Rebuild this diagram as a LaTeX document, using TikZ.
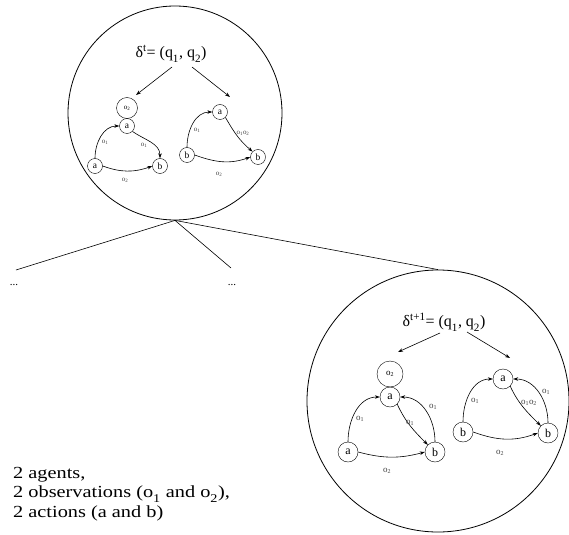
\documentclass[tikz,border=0pt]{standalone}
\usepackage{fontspec}
\setmainfont{Liberation Serif}
\newfontfamily\legfont[FakeStretch=1.2]{Liberation Serif}
\usetikzlibrary{arrows.meta}
\newcommand\lsb[1]{\raisebox{-0.3ex}{\textsubscript{#1}}}
\begin{document}
\begin{tikzpicture}[x=1bp,y=-1bp,
  big/.style={draw,circle,line width=0.8bp},
  st/.style={draw,circle,inner sep=0pt,minimum size=15bp,font=\fontsize{9.5}{9.5}\selectfont},
  stb/.style={draw,circle,inner sep=0pt,minimum size=20bp,font=\fontsize{12}{12}\selectfont},
  lp/.style={draw,circle,inner sep=0pt,minimum size=21bp,font=\fontsize{7}{7}\selectfont},
  lpb/.style={draw,circle,inner sep=0pt,minimum size=26bp,font=\fontsize{9}{9}\selectfont},
  ed/.style={-{Stealth[length=5bp,width=3.5bp]},line width=0.6bp},
  lab/.style={font=\fontsize{7}{7}\selectfont,text=black!75,inner sep=0pt},
  labb/.style={font=\fontsize{9}{9}\selectfont,text=black!75,inner sep=0pt},
  ttl/.style={font=\fontsize{16}{16}\selectfont,inner sep=0pt},
  leg/.style={anchor=base west,inner sep=0pt,font=\legfont\fontsize{17}{17}\selectfont},
  br/.style={line width=0.6bp}
]
\useasboundingbox (0,0) rectangle (569,535);
% big circles
\node[big,minimum size=214bp,inner sep=0pt] (T) at (175,113) {};
\node[big,minimum size=262bp,inner sep=0pt] (B) at (438,401) {};
% branches
\coordinate (c1) at (16,270);
\coordinate (c2) at (231,268);
\draw[br] (T.south) -- (c1);
\draw[br] (T.south) -- (c2);
\draw[br] (T.south) -- (B.north);
\node[font=\fontsize{11}{11}\selectfont,inner sep=0pt] (d1) at (14,285) {...};
\node[font=\fontsize{11}{11}\selectfont,inner sep=0pt] (d2) at (232,285) {...};
% top title
\node[ttl] (tt) at (171,54) {δ\textsuperscript{t}= (q\lsb{1}, q\lsb{2})};
\coordinate (ta1) at (172,67); \coordinate (ta1e) at (136,95);
\coordinate (ta2) at (192,67); \coordinate (ta2e) at (230,97);
\draw[ed] (ta1) -- (ta1e);
\draw[ed] (ta2) -- (ta2e);
% top left graph
\node[st] (A1) at (127,126) {a};
\node[lp] (P1) at (127,108) {o\textsubscript{2}};
\node[st] (A2) at (95,166) {a};
\node[st] (B1) at (160,166) {b};
\draw[ed] (A2.north) to[out=90,in=180] (A1.west);
\draw[ed] (A1.south east) to[out=-35,in=90] (B1.north);
\draw[ed] (A2.east) to[out=-20,in=-160] (B1.west);
\node[lab] at (105,142) {o\textsubscript{1}};
\node[lab] at (144,145) {o\textsubscript{1}};
\node[lab] at (125,180) {o\textsubscript{2}};
% top right graph
\node[st] (RA) at (220,112) {a};
\node[st] (RB1) at (187,155) {b};
\node[st] (RB2) at (258,157) {b};
\draw[ed] (RB1.north) to[out=90,in=180] (RA.west);
\draw[ed] (RA.south east) to[out=-60,in=140] (RB2.north west);
\draw[ed] (RB1.east) to[out=-20,in=-160] (RB2.west);
\node[lab] at (197,130) {o\textsubscript{1}};
\node[lab] at (243,133) {o\textsubscript{1}o\textsubscript{2}};
\node[lab] at (219,174) {o\textsubscript{2}};
% bottom title
\node[ttl] (bt) at (444,322) {δ\textsuperscript{t+1}= (q\lsb{1}, q\lsb{2})};
\coordinate (ba1) at (440,333); \coordinate (ba1e) at (398,352);
\coordinate (ba2) at (467,332); \coordinate (ba2e) at (510,358);
\draw[ed] (ba1) -- (ba1e);
\draw[ed] (ba2) -- (ba2e);
% bottom left graph
\node[stb] (C1) at (390,397) {a};
\node[lpb] (P2) at (390,374) {o\textsubscript{2}};
\node[stb] (C2) at (348,452) {a};
\node[stb] (D1) at (435,452) {b};
\draw[ed] (C2.north) to[out=90,in=180] (C1.west);
\draw[ed] (C1.south east) to[out=-65,in=135] (D1.north west);
\draw[ed] (D1.north) to[out=90,in=0] (C1.east);
\draw[ed] (C2.east) to[out=-15,in=-165] (D1.west);
\node[labb] at (360,419) {o\textsubscript{1}};
\node[labb] at (410,423) {o\textsubscript{1}};
\node[labb] at (433,407) {o\textsubscript{1}};
\node[labb] at (387,471) {o\textsubscript{2}};
% bottom right graph
\node[stb] (E1) at (503,379) {a};
\node[stb] (F1) at (463,432) {b};
\node[stb] (F2) at (548,433) {b};
\draw[ed] (F1.north) to[out=90,in=180] (E1.west);
\draw[ed] (E1.south east) to[out=-65,in=135] (F2.north west);
\draw[ed] (F2.north) to[out=90,in=0] (E1.east);
\draw[ed] (F1.east) to[out=-20,in=-160] (F2.west);
\node[labb] at (475,401) {o\textsubscript{1}};
\node[labb] at (529,403) {o\textsubscript{1}o\textsubscript{2}};
\node[labb] at (546,392) {o\textsubscript{1}};
\node[labb] at (500,453) {o\textsubscript{2}};
% legend
\node[leg] (leg1) at (13,478) {2 agents,};
\node[leg] (leg2) at (13,497.5) {2 observations (o\lsb{1} and o\lsb{2}),};
\node[leg] (leg3) at (13,517) {2 actions (a and b)};
\end{tikzpicture}
\end{document}
